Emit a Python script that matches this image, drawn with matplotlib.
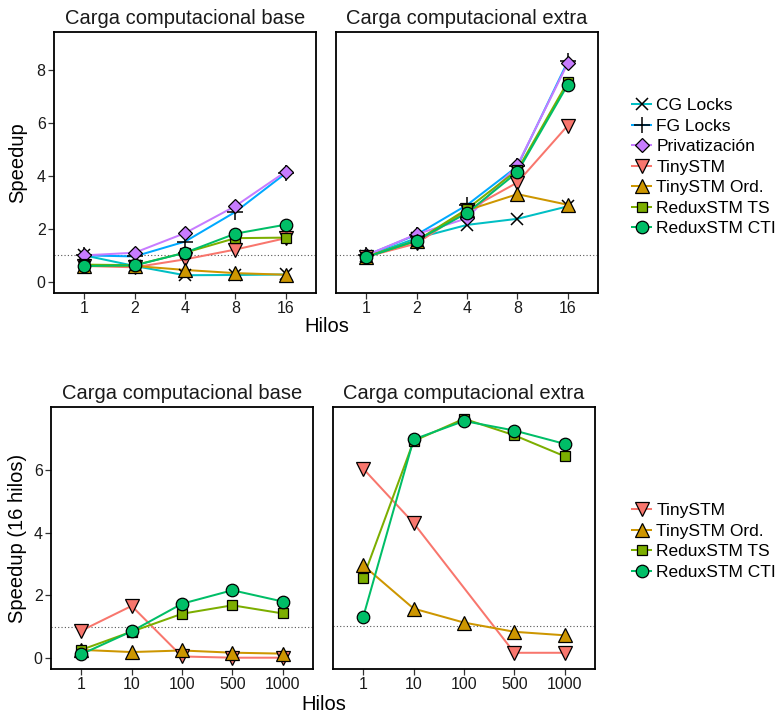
import numpy as np
import matplotlib.pyplot as plt
from matplotlib.lines import Line2D

plt.rcParams['font.family'] = ['Liberation Sans', 'DejaVu Sans']

# datos
hilos = ['1', '2', '4', '8', '16']
tareas = ['1', '10', '100', '500', '1000']

series = ['CG Locks', 'FG Locks', 'Privatización', 'TinySTM',
          'TinySTM Ord.', 'ReduxSTM TS', 'ReduxSTM CTI']

base_hilos = {
    'CG Locks':      [1.00, 0.60, 0.25, 0.26, 0.28],
    'FG Locks':      [1.00, 0.96, 1.52, 2.64, 4.10],
    'Privatización': [1.00, 1.10, 1.84, 2.86, 4.16],
    'TinySTM':       [0.60, 0.55, 0.85, 1.22, 1.65],
    'TinySTM Ord.':  [0.60, 0.60, 0.45, 0.33, 0.27],
    'ReduxSTM TS':   [0.65, 0.63, 1.10, 1.65, 1.67],
    'ReduxSTM CTI':  [0.60, 0.62, 1.10, 1.82, 2.16],
}
extra_hilos = {
    'CG Locks':      [0.96, 1.65, 2.15, 2.38, 2.85],
    'FG Locks':      [1.00, 1.78, 2.90, 4.36, 8.32],
    'Privatización': [1.00, 1.80, 2.40, 4.40, 8.25],
    'TinySTM':       [0.95, 1.45, 2.70, 3.75, 5.90],
    'TinySTM Ord.':  [0.95, 1.55, 2.70, 3.31, 2.91],
    'ReduxSTM TS':   [0.95, 1.55, 2.75, 4.22, 7.55],
    'ReduxSTM CTI':  [0.93, 1.56, 2.60, 4.14, 7.44],
}
base_tareas = {
    'TinySTM':       [0.87, 1.66, 0.05, 0.01, 0.01],
    'TinySTM Ord.':  [0.26, 0.19, 0.24, 0.17, 0.14],
    'ReduxSTM TS':   [0.26, 0.84, 1.41, 1.68, 1.42],
    'ReduxSTM CTI':  [0.12, 0.85, 1.73, 2.16, 1.80],
}
# TinySTM extra en 100 no tiene punto (nan)
extra_tareas = {
    'TinySTM':       [5.95, 4.24, np.nan, 0.16, 0.16],
    'TinySTM Ord.':  [2.91, 1.55, 1.11, 0.82, 0.71],
    'ReduxSTM TS':   [2.52, 6.82, 7.52, 7.00, 6.34],
    'ReduxSTM CTI':  [1.29, 6.87, 7.45, 7.15, 6.73],
}

colores = {
    'CG Locks': '#00BFC4', 'FG Locks': '#00A9FF', 'Privatización': '#C77CFF',
    'TinySTM': '#F8766D', 'TinySTM Ord.': '#CD9600',
    'ReduxSTM TS': '#7CAE00', 'ReduxSTM CTI': '#00BE67',
}
marcas = {
    'CG Locks': ('x', 8), 'FG Locks': ('+', 11), 'Privatización': ('D', 7),
    'TinySTM': ('v', 9.5), 'TinySTM Ord.': ('^', 9.5),
    'ReduxSTM TS': ('s', 7.8), 'ReduxSTM CTI': ('o', 9),
}

W, H = 783, 715
fig = plt.figure(figsize=(W / 100, H / 100), dpi=100)


def ejes(x0, y0, x1, y1):
    return fig.add_axes([x0 / W, 1 - y1 / H, (x1 - x0) / W, (y1 - y0) / H])


def panel(ax, datos, etiquetas, ylim, titulo, izq):
    x = np.arange(1, len(etiquetas) + 1)
    for i, s in enumerate(series):
        if s not in datos:
            continue
        y = np.array(datos[s], dtype=float)
        ok = ~np.isnan(y)
        ax.plot(x[ok], y[ok], color=colores[s], lw=1.45, zorder=2,
                solid_capstyle='butt')
        m, ms = marcas[s]
        if m in ('x', '+'):
            ax.plot(x[ok], y[ok], ls='none', marker=m, ms=ms, mew=1.1,
                    color='black', zorder=3 + i)
        else:
            ax.plot(x[ok], y[ok], ls='none', marker=m, ms=ms, mew=0.9,
                    mfc=colores[s], mec='black', zorder=3 + i)
    ax.axhline(1, color='#555555', ls=(0, (1, 2)), lw=0.8, zorder=1)
    ax.set_xlim(0.4, len(etiquetas) + 0.6)
    ax.set_ylim(*ylim)
    ax.set_xticks(x)
    ax.set_xticklabels(etiquetas)
    ax.set_title(titulo, fontsize=14.5, color='#1a1a1a', pad=6)
    for sp in ax.spines.values():
        sp.set_linewidth(1.3)
        sp.set_color('black')
    ax.tick_params(direction='out', length=4, width=0.9, colors='#333333',
                   labelsize=11.5, labelcolor='#1a1a1a', pad=2)
    if izq:
        ax.set_yticks([0, 2, 4, 6, 8])
    else:
        ax.tick_params(axis='y', left=False, labelleft=False)


ylim_a = (-0.42, 9.43)
ylim_b = (-0.35, 7.89)

ax1 = ejes(54, 32, 316, 293)
ax2 = ejes(336, 32, 598, 293)
ax3 = ejes(51, 407, 313, 669)
ax4 = ejes(333, 407, 595, 669)

panel(ax1, base_hilos, hilos, ylim_a, 'Carga computacional base', True)
panel(ax2, extra_hilos, hilos, ylim_a, 'Carga computacional extra', False)
panel(ax3, base_tareas, tareas, ylim_b, 'Carga computacional base', True)
panel(ax4, extra_tareas, tareas, ylim_b, 'Carga computacional extra', False)
ax3.set_yticks([0, 2, 4, 6])

fig.text(327 / W, 1 - 327 / H, 'Hilos', ha='center', va='center', fontsize=14.5)
fig.text(324 / W, 1 - 704 / H, 'Hilos', ha='center', va='center', fontsize=14.5)
fig.text(18 / W, 1 - 163 / H, 'Speedup', rotation=90, ha='center', va='center',
         fontsize=14.5)
fig.text(18 / W, 1 - 538 / H, 'Speedup (16 hilos)', rotation=90, ha='center',
         va='center', fontsize=14.5)


def manejador(s):
    m, ms = marcas[s]
    if m in ('x', '+'):
        return Line2D([], [], color=colores[s], lw=1.45, marker=m, ms=ms,
                      mec='black', mew=1.1)
    return Line2D([], [], color=colores[s], lw=1.45, marker=m, ms=ms,
                  mfc=colores[s], mec='black', mew=0.9)


for nombres, ytop in ((series, 98), (series[3:], 503)):
    fig.legend([manejador(s) for s in nombres], nombres, loc='upper left',
               bbox_to_anchor=(632 / W, 1 - ytop / H), frameon=False,
               fontsize=12.5, borderpad=0, borderaxespad=0, labelspacing=0.31,
               handlelength=1.1, handletextpad=0.3)

fig.savefig('out.png', dpi=100)
